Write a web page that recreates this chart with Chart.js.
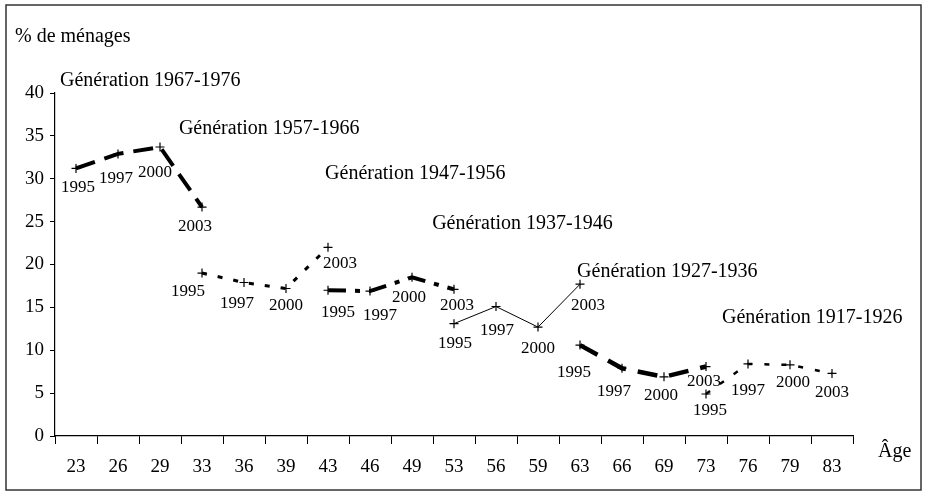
<!DOCTYPE html>
<html><head><meta charset="utf-8">
<script src="https://cdn.jsdelivr.net/npm/chart.js@4/dist/chart.umd.min.js"></script>
<style>html,body{margin:0;padding:0;background:#fff}canvas{display:block}</style>
</head><body>
<canvas id="c" width="928" height="496"></canvas>
<script>
// ---- Data ----
const ages = ['23','26','29','33','36','39','43','46','49','53','56','59','63','66','69','73','76','79','83'];
const surveyYears = ['1995','1997','2000','2003'];
const generationNames = ['Génération 1967-1976','Génération 1957-1966','Génération 1947-1956','Génération 1937-1946','Génération 1927-1936','Génération 1917-1926'];

const ages1967 = ['23','26','29','33'];
const values1967 = [31.2, 32.9, 33.7, 26.7];
const ages1957 = ['33','36','39','43'];
const values1957 = [19.0, 17.9, 17.2, 22.0];
const ages1947 = ['43','46','49','53'];
const values1947 = [17.0, 16.9, 18.5, 17.1];
const ages1937 = ['53','56','59','63'];
const values1937 = [13.1, 15.1, 12.7, 17.7];
const ages1927 = ['63','66','69','73'];
const values1927 = [10.6, 7.9, 6.9, 8.1];
const ages1917 = ['73','76','79','83'];
const values1917 = [4.9, 8.4, 8.3, 7.3];

const yMin = 0, yMax = 40, yStep = 5;
const yAxisTitle = '% de ménages';
const xAxisTitle = 'Âge';

// ---- Styles / placement (kept apart from data) ----
const seriesAges = [ages1967, ages1957, ages1947, ages1937, ages1927, ages1917];
const seriesValues = [values1967, values1957, values1947, values1937, values1927, values1917];
const lineWidths = [4, 3, 4, 1, 4.5, 2.5];
const lineDashes = [[20,10],[5,11],[18,9,5,9],[],[20,12],[5,12]];
// label offsets (dx, dy) from each point
const yearLabelOffsets = [
  [[2,19],[-2,25],[-5,26],[-7,19]],
  [[-14,18],[-7,21],[0,17],[12,16]],
  [[10,22],[10,24],[-3,20],[3,16]],
  [[1,20],[1,24],[0,21],[8,21]],
  [[-6,27],[-8,23],[-3,19],[-2,15]],
  [[4,17],[0,27],[3,18],[0,19]]
];
// generation label anchors: [category index (fractional), y value]
const genLabelAnchors = [[-0.38,41.4],[2.45,35.8],[5.93,30.6],[8.48,24.8],[11.93,19.1],[15.38,13.8]];

const FONT = "'Liberation Serif', 'Times New Roman', serif";

const datasets = seriesValues.map((vals, i) => ({
  label: generationNames[i],
  data: vals.map((v, j) => ({x: seriesAges[i][j], y: v})),
  borderColor: '#000',
  backgroundColor: '#000',
  borderWidth: lineWidths[i],
  borderDash: lineDashes[i],
  borderCapStyle: 'butt',
  pointStyle: 'cross',
  pointRadius: 4.5,
  pointBorderWidth: 1.2,
  pointBorderColor: '#000',
  tension: 0,
  fill: false
}));

const labelsPlugin = {
  id: 'labelsPlugin',
  afterDraw(chart) {
    const ctx = chart.ctx;
    const xs = chart.scales.x, ys = chart.scales.y;
    ctx.save();
    ctx.fillStyle = '#000';
    // year labels
    ctx.font = '17px ' + FONT;
    ctx.textAlign = 'center';
    ctx.textBaseline = 'middle';
    chart.data.datasets.forEach((ds, i) => {
      const meta = chart.getDatasetMeta(i);
      meta.data.forEach((pt, j) => {
        const off = yearLabelOffsets[i][j];
        ctx.fillText(surveyYears[j], pt.x + off[0], pt.y + off[1]);
      });
    });
    // generation labels
    ctx.font = '20px ' + FONT;
    ctx.textAlign = 'left';
    generationNames.forEach((name, i) => {
      const a = genLabelAnchors[i];
      ctx.fillText(name, xs.getPixelForValue(a[0]), ys.getPixelForValue(a[1]));
    });
    // axis titles
    ctx.font = '20px ' + FONT;
    ctx.textAlign = 'left';
    ctx.fillText(yAxisTitle, 15, 37);
    ctx.fillText(xAxisTitle, chart.chartArea.right + 25, chart.chartArea.bottom + 16);
    // frame
    ctx.strokeStyle = '#333';
    ctx.lineWidth = 1.5;
    ctx.strokeRect(6, 5, 915, 485);
    ctx.restore();
  }
};

new Chart(document.getElementById('c'), {
  type: 'line',
  data: { labels: ages, datasets },
  options: {
    responsive: false,
    animation: false,
    devicePixelRatio: 1,
    layout: { padding: { top: 93, left: 0, right: 75, bottom: 0 } },
    plugins: { legend: { display: false }, tooltip: { enabled: false } },
    scales: {
      x: {
        type: 'category',
        offset: true,
        grid: { offset: true, drawOnChartArea: false, drawTicks: true, tickLength: 8, color: '#000', lineWidth: 1 },
        border: { display: true, color: '#000', width: 1.2 },
        ticks: { color: '#000', font: { family: FONT, size: 19 }, padding: 12, maxRotation: 0, autoSkip: false },
        afterFit(s) { s.height = 60; }
      },
      y: {
        min: yMin, max: yMax,
        grid: { drawOnChartArea: false, drawTicks: true, tickLength: 5, color: '#000', lineWidth: 1 },
        border: { display: true, color: '#000', width: 1.2 },
        ticks: { stepSize: yStep, color: '#000', font: { family: FONT, size: 19 }, padding: 6 },
        afterFit(s) { s.width = 55; }
      }
    }
  },
  plugins: [labelsPlugin]
});
</script>
</body></html>
